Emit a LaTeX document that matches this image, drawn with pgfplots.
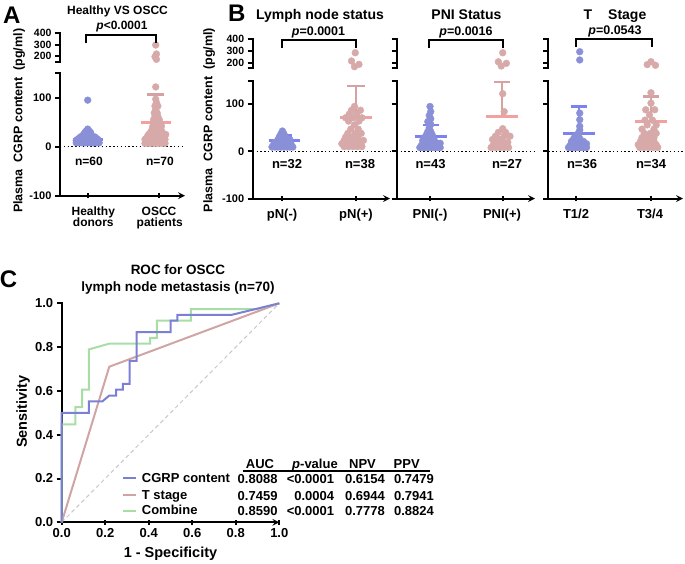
\documentclass[border=0pt]{standalone}
\usepackage{fontspec}
\setmainfont{Liberation Sans}
\usepackage{pgfplots}
\pgfplotsset{compat=1.18}
\newcommand\fs[1]{\fontsize{#1}{#1}\selectfont\bfseries}
\definecolor{ptblue}{HTML}{8A90D8}
\definecolor{mnblue}{HTML}{7C83F0}
\definecolor{ptpink}{HTML}{D7A9A9}
\definecolor{mnpink}{HTML}{F5A0A0}
\definecolor{sdpink}{HTML}{D4A2A2}
\definecolor{cgrp}{HTML}{7C80D4}
\definecolor{tst}{HTML}{D0A4A4}
\definecolor{comb}{HTML}{A6DEA6}
\definecolor{diag}{HTML}{C8C8C8}
\pgfplotsset{
  gp/.style={scale only axis, clip=false, anchor=south west,
    axis y line=left,
    axis line style={-, line width=2pt, line cap=rect},
    tick style={black, line width=2pt}, major tick length=5pt, tick align=outside,
    tick label style={font=\fs{11}},
    extra tick style={grid=none}},
  low/.style={gp, axis x line=bottom, ymin=-100, ymax=150,
    ytick={-100,0,100}, extra y ticks={150}, extra y tick labels={},
    xtick={1,2}, xticklabels={}},
  up/.style={gp, axis x line=none, ymin=150, ymax=400,
    ytick={200,300,400}, extra y ticks={150}, extra y tick labels={},
    tick label style={font=\fs{10.5}}},
  dots/.style={only marks, color=#1, mark=*, mark size=3.4pt,
    mark options={draw=none, fill=#1}},
  sdb/.style={mnblue, line width=2.5pt},
  mnb/.style={mnblue, line width=3pt},
  sdp/.style={sdpink, line width=2.5pt},
  mnp/.style={mnpink, line width=3pt},
}
\tikzset{zline/.style={black, line width=1.4pt, dash pattern=on 1.4pt off 2.4pt}}

\begin{document}
\begin{tikzpicture}
\useasboundingbox (0,0) rectangle (685pt,-563pt);

% ---------------- panel A ----------------
\begin{axis}[low, width=125pt, height=122.5pt, at={(60pt,-195.7pt)},
  xmin=0.613, xmax=2.359, yticklabels={-100,0,100}]
\draw[zline] (axis cs:0.613,0) -- (axis cs:2.359,0);
\addplot[dots=ptblue] coordinates {
 (0.84,8) (0.88,8) (0.92,8) (0.96,8) (1.00,8) (1.04,8) (1.08,8) (1.12,8) (1.16,8)
 (0.86,11) (0.90,11) (0.94,11) (0.98,11) (1.02,11) (1.06,11) (1.10,11) (1.14,11)
 (0.84,13) (0.88,13) (0.92,13) (0.96,13) (1.00,13) (1.04,13) (1.08,13) (1.12,13)
 (0.86,15) (0.90,15) (0.94,15) (0.98,15) (1.02,15) (1.06,15) (1.10,15) (1.14,15)
 (0.88,17) (0.92,17) (0.96,17) (1.00,17) (1.04,17) (1.08,17) (1.12,17)
 (0.90,20) (0.94,20) (0.98,20) (1.02,20) (1.06,20) (1.10,20)
 (0.93,23) (0.97,23) (1.01,23) (1.05,23)
 (0.95,26) (0.99,26) (1.03,26) (0.96,29) (1.00,29) (1.04,29)
 (0.98,32) (1.02,32) (1.00,36) (1.00,95)};
\addplot[dots=ptpink] coordinates {
 (1.80,7) (1.84,7) (1.88,7) (1.92,7) (1.96,7) (2.00,7) (2.04,7) (2.08,7)
 (1.82,11) (1.86,11) (1.90,11) (1.94,11) (1.98,11) (2.02,11) (2.06,11)
 (1.80,15) (1.84,15) (1.88,15) (1.92,15) (1.96,15) (2.00,15) (2.04,15) (2.08,15)
 (1.83,20) (1.87,20) (1.91,20) (1.95,20) (1.99,20) (2.03,20) (2.07,20)
 (1.85,25) (1.89,25) (1.93,25) (1.97,25) (2.01,25) (2.05,25) (2.09,25)
 (1.88,30) (1.92,30) (1.96,30) (2.00,30) (2.04,30)
 (1.90,36) (1.94,36) (1.98,36) (2.02,36)
 (1.91,42) (1.95,42) (1.99,42) (2.03,42)
 (1.93,48) (1.97,48) (2.01,48) (1.92,55) (1.96,55) (2.00,55)
 (1.94,62) (1.98,62) (1.93,69) (1.97,69) (1.95,76) (1.94,83) (1.98,83)
 (1.96,90) (1.95,97) (1.95,122)};
\addplot[sdb] coordinates {(1,14) (1,27)};
\addplot[sdb] coordinates {(0.91,27) (1.09,27)};
\addplot[mnb] coordinates {(0.79,14) (1.21,14)};
\addplot[sdp] coordinates {(1.95,50) (1.95,107)};
\addplot[sdp] coordinates {(1.83,107) (2.07,107)};
\addplot[mnp] coordinates {(1.74,50) (2.16,50)};
\end{axis}
\begin{axis}[up, width=125pt, height=28.4pt, at={(60pt,-61.7pt)},
  xmin=0.613, xmax=2.359, yticklabels={200,300,400}]
\addplot[dots=ptpink] coordinates {(1.95,297) (1.96,218) (1.94,194) (1.96,171)};
\end{axis}

% ---------------- panel B1 ----------------
\begin{axis}[low, width=137.3pt, height=118pt, at={(252.7pt,-198.5pt)},
  xmin=0.61, xmax=2.458, yticklabels={-100,0,100}]
\draw[zline] (axis cs:0.61,0) -- (axis cs:2.458,0);
\addplot[dots=ptblue] coordinates {
 (0.87,9) (0.91,9) (0.95,9) (0.99,9) (1.03,9) (1.07,9) (1.11,9) (1.15,9)
 (0.89,14) (0.93,14) (0.97,14) (1.01,14) (1.05,14) (1.09,14) (1.13,14)
 (0.91,19) (0.95,19) (0.99,19) (1.03,19) (1.07,19) (1.11,19)
 (0.95,25) (0.99,25) (1.03,25) (1.07,25) (1.11,25)
 (0.97,31) (1.01,31) (1.05,31) (0.99,37) (1.03,37) (1.01,43)};
\addplot[dots=ptpink] coordinates {
 (1.84,10) (1.90,10) (1.96,10) (2.02,10) (2.08,10)
 (1.81,16) (1.87,16) (1.93,16) (1.99,16) (2.05,16)
 (1.84,23) (1.90,23) (1.97,23) (2.04,23) (2.10,23)
 (1.86,30) (1.94,30) (2.02,30) (1.89,38) (1.99,38) (2.07,38)
 (1.93,47) (2.03,47) (1.98,56) (1.90,64) (2.04,64)
 (1.86,71) (1.96,71) (2.08,71) (1.91,79) (2.01,79) (1.94,87) (2.06,87) (1.98,95)};
\addplot[sdb] coordinates {(1.04,22) (1.04,33)};
\addplot[sdb] coordinates {(0.945,33) (1.135,33)};
\addplot[mnb] coordinates {(0.83,22) (1.25,22)};
\addplot[sdp] coordinates {(2,71.5) (2,138)};
\addplot[sdp] coordinates {(1.885,138) (2.115,138)};
\addplot[mnp] coordinates {(1.79,71.5) (2.21,71.5)};
\end{axis}
\begin{axis}[up, width=137.3pt, height=29pt, at={(252.7pt,-68.3pt)},
  xmin=0.61, xmax=2.458, yticklabels={200,300,400}]
\addplot[dots=ptpink] coordinates {(1.99,284) (1.94,213) (2.04,184) (1.98,164)};
\end{axis}

% ---------------- panel B2 ----------------
\begin{axis}[low, width=138.3pt, height=118pt, at={(396.7pt,-198.5pt)},
  xmin=0.542, xmax=2.444, yticklabels={}]
\draw[zline] (axis cs:0.542,0) -- (axis cs:2.444,0);
\addplot[dots=ptblue] coordinates {
 (0.86,8) (0.90,8) (0.94,8) (0.98,8) (1.02,8) (1.06,8) (1.10,8) (1.14,8)
 (0.88,12) (0.92,12) (0.96,12) (1.00,12) (1.04,12) (1.08,12) (1.12,12)
 (0.90,17) (0.94,17) (0.98,17) (1.02,17) (1.06,17) (1.10,17) (1.14,17)
 (0.90,23) (0.94,23) (0.98,23) (1.02,23) (1.06,23)
 (0.92,29) (0.96,29) (1.00,29) (1.04,29)
 (0.95,35) (0.99,35) (1.03,35) (0.97,42) (1.01,42)
 (0.99,50) (1.01,57) (0.97,63) (1.01,69) (0.99,76) (1.01,84) (1.00,95)};
\addplot[dots=ptpink] coordinates {
 (1.84,8) (1.90,8) (1.96,8) (2.02,8) (2.08,8)
 (1.87,13) (1.93,13) (1.99,13) (2.05,13)
 (1.89,19) (1.95,19) (2.01,19) (2.07,19)
 (1.86,25) (1.96,25) (1.90,32) (2.02,32) (2.10,32)
 (1.94,40) (2.04,40) (2.00,48) (2.02,84) (2.00,122)};
\addplot[sdb] coordinates {(1.01,31) (1.01,56)};
\addplot[sdb] coordinates {(0.90,56) (1.12,56)};
\addplot[mnb] coordinates {(0.79,31) (1.23,31)};
\addplot[sdp] coordinates {(1.99,74) (1.99,147)};
\addplot[sdp] coordinates {(1.88,147) (2.10,147)};
\addplot[mnp] coordinates {(1.77,74) (2.21,74)};
\end{axis}
\begin{axis}[up, width=138.3pt, height=29pt, at={(396.7pt,-68.3pt)},
  xmin=0.542, xmax=2.444, yticklabels={}]
\addplot[dots=ptpink] coordinates {(2.00,284) (1.94,206) (2.05,193) (1.98,170)};
\end{axis}

% ---------------- panel B3 ----------------
\begin{axis}[low, width=134.7pt, height=118pt, at={(548.3pt,-198.5pt)},
  xmin=0.631, xmax=2.427, yticklabels={}]
\draw[zline] (axis cs:0.631,0) -- (axis cs:2.427,0);
\addplot[dots=ptblue] coordinates {
 (0.90,8) (0.94,8) (0.98,8) (1.02,8) (1.06,8) (1.10,8) (1.14,8)
 (0.92,12) (0.96,12) (1.00,12) (1.04,12) (1.08,12) (1.12,12)
 (0.94,16) (0.98,16) (1.02,16) (1.06,16) (1.10,16) (1.14,16)
 (0.94,21) (0.98,21) (1.02,21) (1.06,21) (1.10,21)
 (0.97,27) (1.01,27) (1.05,27) (0.99,33) (1.03,33) (1.03,38)
 (1.05,45) (1.05,53) (1.05,67) (1.05,81)};
\addplot[dots=ptpink] coordinates {
 (1.85,8) (1.91,8) (1.97,8) (2.03,8) (2.09,8)
 (1.83,14) (1.89,14) (1.95,14) (2.01,14) (2.07,14)
 (1.86,21) (1.92,21) (1.98,21) (2.04,21)
 (1.88,29) (1.96,29) (2.04,29) (1.91,38) (1.99,38) (2.07,38)
 (1.88,47) (2.04,47) (1.95,56) (2.07,56) (1.92,66) (2.02,66)
 (1.98,77) (1.93,88) (2.05,88) (2.00,102) (2.00,124)};
\addplot[sdb] coordinates {(1.04,37) (1.04,95)};
\addplot[sdb] coordinates {(0.935,95) (1.145,95)};
\addplot[mnb] coordinates {(0.83,37) (1.25,37)};
\addplot[sdp] coordinates {(2,64) (2,116)};
\addplot[sdp] coordinates {(1.89,116) (2.11,116)};
\addplot[mnp] coordinates {(1.79,64) (2.21,64)};
\end{axis}
\begin{axis}[up, width=134.7pt, height=29pt, at={(548.3pt,-68.3pt)},
  xmin=0.631, xmax=2.427, yticklabels={}]
\addplot[dots=ptblue] coordinates {(1.05,293) (1.05,222)};
\addplot[dots=ptpink] coordinates {(2.00,207) (1.95,182) (2.06,176)};
\end{axis}

% ---------------- panel C ----------------
\begin{axis}[gp, axis x line=bottom, width=217.6pt, height=219pt, at={(61.7pt,-522.3pt)},
  xmin=0, xmax=1, ymin=0, ymax=1,
  xtick={0,0.2,0.4,0.6,0.8,1}, ytick={0,0.2,0.4,0.6,0.8,1},
  xticklabels={0.0,0.2,0.4,0.6,0.8,1.0}, yticklabels={0.0,0.2,0.4,0.6,0.8,1.0},
  tick label style={font=\fs{13}}]
\addplot[diag, line width=1pt, dash pattern=on 4pt off 3pt] coordinates {(0,0) (1,1)};
\addplot[tst, line width=2pt] coordinates {(0,0) (0.21875,0.7105) (1,1)};
\addplot[comb, line width=2pt] coordinates {
 (0,0) (0,0.4474) (0.0625,0.4474) (0.0625,0.5263) (0.09375,0.5263) (0.09375,0.6053)
 (0.125,0.6053) (0.125,0.7895) (0.21875,0.8158) (0.40625,0.8158) (0.40625,0.8421)
 (0.4375,0.8421) (0.4375,0.9211) (0.59375,0.9211) (0.59375,0.9737) (0.90,0.9737) (1,1)};
\addplot[cgrp, line width=2pt] coordinates {
 (0,0) (0,0.5) (0.125,0.5) (0.125,0.5526) (0.1875,0.5526) (0.21875,0.5789) (0.25,0.5789)
 (0.25,0.6053) (0.28125,0.6053) (0.28125,0.6316) (0.3125,0.6316) (0.3125,0.7368)
 (0.34375,0.7368) (0.34375,0.8684) (0.5,0.8684) (0.5,0.9211) (0.53125,0.9211)
 (0.53125,0.9474) (0.78125,0.9474) (1,1)};
\end{axis}

% ---------------- texts ----------------
\begin{scope}[every node/.style={inner sep=0pt}]
% A
\node[font=\fs{24}, anchor=base] at (11.7pt,-23.3pt) {A};
\node[font=\fs{12}, anchor=base] at (117.5pt,-14.6pt) {Healthy VS OSCC};
\node[font=\fs{12}, anchor=base] at (122pt,-29.5pt) {\textit{p}<0.0001};
\draw[line width=2pt] (86pt,-43.3pt) -- (86pt,-34.5pt) -- (156pt,-34.5pt) -- (156pt,-43.3pt);
\node[font=\fs{12}, anchor=base] at (89pt,-165pt) {n=60};
\node[font=\fs{12}, anchor=base] at (160pt,-165pt) {n=70};
\node[font=\fs{12}, anchor=base] at (93.3pt,-215.3pt) {Healthy};
\node[font=\fs{12}, anchor=base] at (93.3pt,-226.7pt) {donors};
\node[font=\fs{12}, anchor=base] at (159pt,-215.3pt) {OSCC};
\node[font=\fs{12}, anchor=base] at (159.7pt,-226.7pt) {patients};
\node[font=\fs{12.5}, anchor=base, rotate=90] at (22.3pt,-120.8pt) {Plasma\ \ CGRP content\ \ (pg/ml)};
% B
\node[font=\fs{24}, anchor=base] at (236.7pt,-21.7pt) {B};
\node[font=\fs{14}, anchor=base] at (320pt,-19.3pt) {Lymph node status};
\node[font=\fs{14}, anchor=base] at (466.5pt,-19.3pt) {PNI Status};
\node[font=\fs{14}, anchor=base] at (615pt,-19pt) {T\hspace{16pt}Stage};
\node[font=\fs{12.5}, anchor=base] at (318.5pt,-35pt) {\textit{p}=0.0001};
\node[font=\fs{12.5}, anchor=base] at (466pt,-35pt) {\textit{p}=0.0016};
\node[font=\fs{12.5}, anchor=base] at (615pt,-34.3pt) {\textit{p}=0.0543};
\draw[line width=2pt] (281.5pt,-48pt) -- (281.5pt,-40pt) -- (356pt,-40pt) -- (356pt,-48pt);
\draw[line width=2pt] (428.5pt,-48pt) -- (428.5pt,-40pt) -- (503pt,-40pt) -- (503pt,-48pt);
\draw[line width=2pt] (576pt,-46.7pt) -- (576pt,-39.3pt) -- (652pt,-39.3pt) -- (652pt,-46.7pt);
\node[font=\fs{13}, anchor=base] at (287pt,-168.3pt) {n=32};
\node[font=\fs{13}, anchor=base] at (360pt,-168.3pt) {n=38};
\node[font=\fs{13}, anchor=base] at (430.5pt,-168.3pt) {n=43};
\node[font=\fs{13}, anchor=base] at (507pt,-168.3pt) {n=27};
\node[font=\fs{13}, anchor=base] at (582pt,-168.3pt) {n=36};
\node[font=\fs{13}, anchor=base] at (651pt,-168.3pt) {n=34};
\node[font=\fs{13}, anchor=base] at (282pt,-218.3pt) {pN(-)};
\node[font=\fs{13}, anchor=base] at (356pt,-218.3pt) {pN(+)};
\node[font=\fs{13}, anchor=base] at (430pt,-218.3pt) {PNI(-)};
\node[font=\fs{13}, anchor=base] at (502pt,-218.3pt) {PNI(+)};
\node[font=\fs{13}, anchor=base] at (576pt,-218.3pt) {T1/2};
\node[font=\fs{13}, anchor=base] at (650pt,-218.3pt) {T3/4};
\node[font=\fs{12.5}, anchor=base, rotate=90] at (212.3pt,-120pt) {Plasma\ \ CGRP content\ \ (pg/ml)};
% C
\node[font=\fs{24}, anchor=base] at (8.5pt,-287.3pt) {C};
\node[font=\fs{13.5}, anchor=base] at (178pt,-274pt) {ROC for OSCC};
\node[font=\fs{13.5}, anchor=base] at (178pt,-291.5pt) {lymph node metastasis (n=70)};
\node[font=\fs{14.5}, anchor=base, rotate=90] at (27pt,-411.7pt) {Sensitivity};
\node[font=\fs{14.5}, anchor=base] at (170.5pt,-557pt) {1 - Specificity};
\draw[cgrp, line width=2pt] (123pt,-478.3pt) -- (136pt,-478.3pt);
\draw[tst, line width=2pt] (123pt,-495pt) -- (136pt,-495pt);
\draw[comb, line width=2pt] (123pt,-510.7pt) -- (136pt,-510.7pt);
\node[font=\fs{13}, anchor=base west] at (141.7pt,-482.8pt) {CGRP content};
\node[font=\fs{13}, anchor=base west] at (141.7pt,-499.6pt) {T stage};
\node[font=\fs{13}, anchor=base west] at (141.7pt,-514.8pt) {Combine};
\node[font=\fs{13}, anchor=base] at (260pt,-468.6pt) {AUC};
\node[font=\fs{13}, anchor=base] at (315pt,-468.6pt) {\textit{p}-value};
\node[font=\fs{13}, anchor=base] at (362.5pt,-468.6pt) {NPV};
\node[font=\fs{13}, anchor=base] at (406.7pt,-468.6pt) {PPV};
\draw[line width=2pt] (242.7pt,-471pt) -- (430pt,-471pt);
\foreach \yy/\a/\p/\n/\v in {483.5/0.8088/<0.0001/0.6154/0.7479,
                             500/0.7459/0.0004/0.6944/0.7941,
                             515.8/0.8590/<0.0001/0.7778/0.8824}{
  \node[font=\fs{13}, anchor=base east] at (277.7pt,-\yy pt) {\a};
  \node[font=\fs{13}, anchor=base east] at (334.3pt,-\yy pt) {\p};
  \node[font=\fs{13}, anchor=base east] at (385pt,-\yy pt) {\n};
  \node[font=\fs{13}, anchor=base east] at (434pt,-\yy pt) {\v};
}
\end{scope}
\end{tikzpicture}
\end{document}
